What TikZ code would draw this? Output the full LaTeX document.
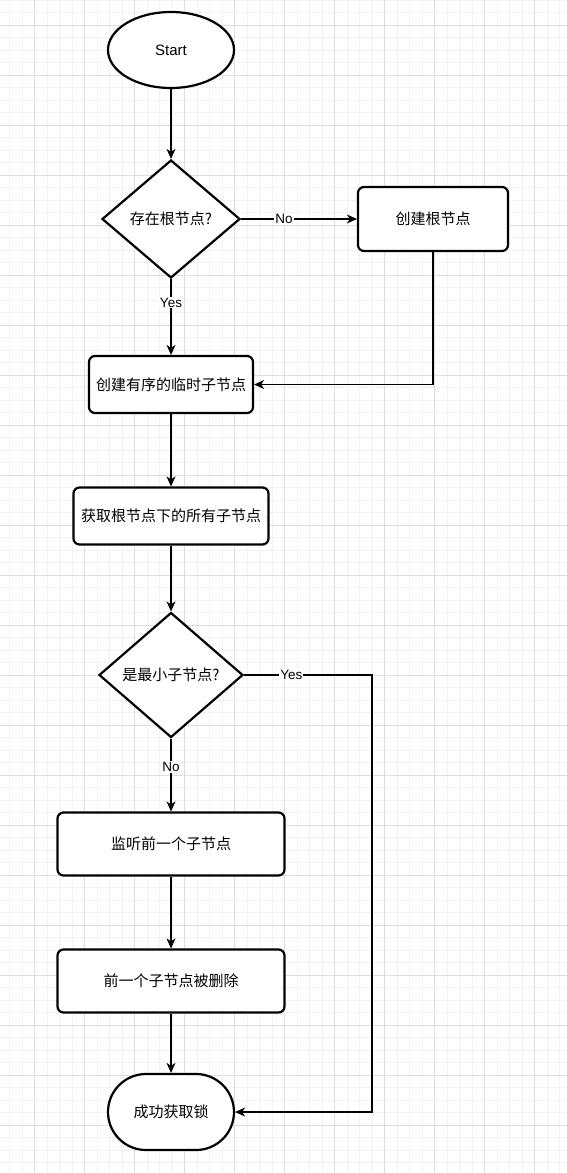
\documentclass[tikz,border=0pt]{standalone}
\usepackage{fontspec}
\setmainfont{Liberation Sans}
\newfontfamily\cjk{Noto Sans CJK SC}
\usepackage{tikz}
\usetikzlibrary{shapes}
\usetikzlibrary{arrows.meta}
\tikzset{
  term node/.style={ellipse,draw,line width=2.2pt,fill=white,inner sep=0pt,minimum width=126pt,minimum height=76pt,font=\fontsize{15}{18}\selectfont},
  ask node/.style={diamond,draw,line width=2.2pt,fill=white,inner sep=0pt,font=\fontsize{15}{18}\selectfont\cjk},
  step node/.style={rectangle,draw,line width=2.2pt,fill=white,rounded corners=6pt,font=\fontsize{15}{18}\selectfont\cjk},
  tag/.style={fill=white,inner sep=1pt,font=\fontsize{13.5}{16}\selectfont}
}
\begin{document}
\begin{tikzpicture}[x=1pt,y=-1pt,->,>={Stealth[length=10pt,width=9pt,inset=3pt]},line width=1.3pt]
	\useasboundingbox (0,0) rectangle (567,1173);
	\fill[white] (0,0) rectangle (567,1173);
	% grid
	\foreach \x in {-3.2,9.3,...,567} \draw[-,line width=0.6pt,black!5] (\x,0) -- (\x,1173);
	\foreach \y in {0,12.5,...,1173} \draw[-,line width=0.6pt,black!5] (0,\y) -- (567,\y);
	\foreach \x in {34.3,84.3,...,567} \draw[-,line width=0.6pt,black!13] (\x,0) -- (\x,1173);
	\foreach \y in {25,75,...,1173} \draw[-,line width=0.6pt,black!13] (0,\y) -- (567,\y);
	% nodes
	\node [term node] (1) at (171,50) {Start};
	\node [ask node,minimum width=138pt,minimum height=118pt] (2) at (171,219) {存在根节点?};
	\node [step node,minimum width=150pt,minimum height=64pt] (3) at (433,219) {创建根节点};
	\node [step node,minimum width=164pt,minimum height=57pt] (4) at (171,384.5) {创建有序的临时子节点};
	\node [step node,minimum width=195pt,minimum height=57pt] (5) at (171,516) {获取根节点下的所有子节点};
	\node [ask node,minimum width=144pt,minimum height=125pt] (6) at (171,675) {是最小子节点?};
	\node [step node,minimum width=227pt,minimum height=63pt] (7) at (171,844) {监听前一个子节点};
	\node [step node,minimum width=227pt,minimum height=63pt] (8) at (171,981) {前一个子节点被删除};
	\node [step node,rounded corners=38pt,minimum width=126pt,minimum height=76pt] (9) at (171,1112) {成功获取锁};
	\coordinate (c) at (372,675);
	% edges
	\draw (1) -- (2);
	\draw (2) -- node[tag,pos=0.37] {No} (3);
	\draw (2) -- node[tag,pos=0.31] {Yes} (4);
	\draw (3) |- (4);
	\draw (4) -- (5);
	\draw (5) -- (6);
	\draw (6) -- node[tag,pos=0.39] {No} (7);
	\draw (6.east) -- node[tag,pos=0.37] {Yes} (c) |- (9);
	\draw (7) -- (8);
	\draw (8) -- (9);
\end{tikzpicture}
\end{document}
